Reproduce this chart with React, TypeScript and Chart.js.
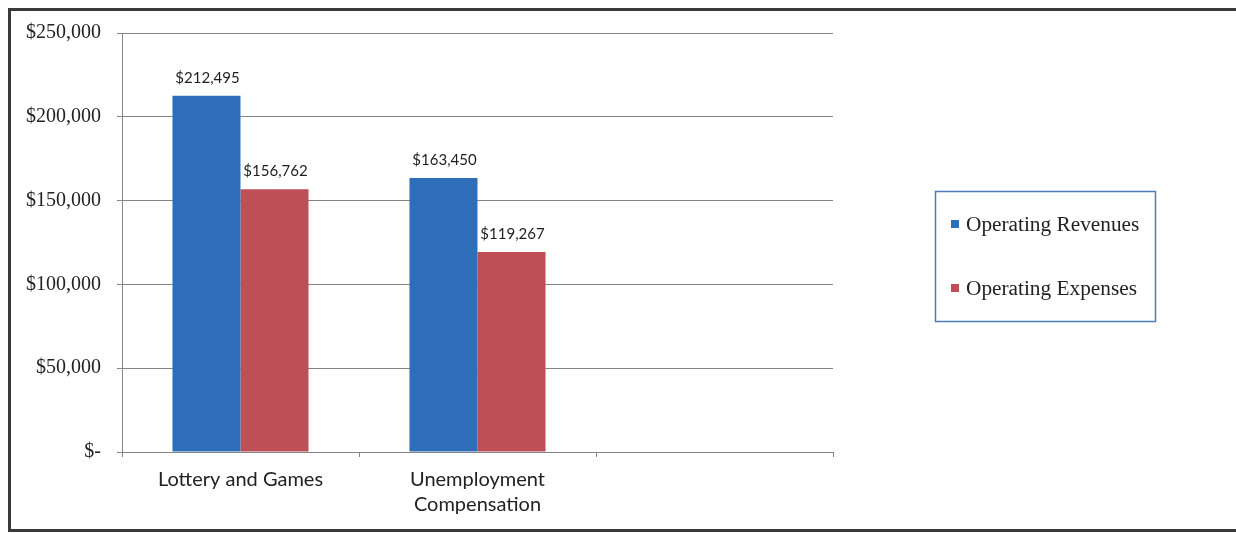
import React, { useEffect, useRef } from "react";
import { Chart, registerables } from "chart.js";

Chart.register(...registerables);

const categories: (string | string[])[] = ["Lottery and Games", ["Unemployment", "Compensation"], ""];
const seriesNames = ["Operating Revenues", "Operating Expenses"];
const revenues = [212495, 163450, null];
const expenses = [156762, 119267, null];
const yMin = 0;
const yMax = 250000;
const yStep = 50000;
const seriesColors = ["#2e6eb8", "#be4f57"];

const fmt = (v: number) => (v === 0 ? "$-" : "$" + v.toLocaleString("en-US"));

const framePlugin = {
  id: "frame",
  beforeDraw(chart: any) {
    const ctx = chart.ctx;
    ctx.save();
    ctx.fillStyle = "#ffffff";
    ctx.fillRect(0, 0, chart.width, chart.height);
    ctx.fillStyle = "#3a3a3a";
    ctx.fillRect(8, 8, chart.width - 8, 3);
    ctx.fillRect(8, 8, 3, 524);
    ctx.fillRect(8, 529, chart.width - 8, 3);
    ctx.restore();
  },
};

const valueLabelPlugin = {
  id: "valueLabels",
  afterDatasetsDraw(chart: any) {
    const ctx = chart.ctx;
    ctx.save();
    ctx.font = "15px Lato";
    ctx.fillStyle = "#1e1e1e";
    ctx.textAlign = "center";
    ctx.textBaseline = "alphabetic";
    chart.data.datasets.forEach((ds: any, di: number) => {
      const meta = chart.getDatasetMeta(di);
      meta.data.forEach((el: any, i: number) => {
        const v = ds.data[i];
        if (v === null || v === undefined) return;
        ctx.fillText(fmt(v), el.x + 1, el.y - 13);
      });
    });
    ctx.restore();
  },
};

const legendPlugin = {
  id: "boxLegend",
  afterDraw(chart: any) {
    const ctx = chart.ctx;
    ctx.save();
    ctx.strokeStyle = "#4a7ebb";
    ctx.lineWidth = 1.5;
    ctx.strokeRect(935.5, 191.5, 220, 130);
    const ys = [224, 288];
    ctx.font = "21.3px 'Liberation Serif'";
    ctx.textAlign = "left";
    ctx.textBaseline = "middle";
    seriesNames.forEach((name, i) => {
      ctx.fillStyle = seriesColors[i];
      ctx.fillRect(951, ys[i] - 4, 8, 8);
      ctx.fillStyle = "#222222";
      ctx.fillText(name, 966, ys[i] + 1);
    });
    ctx.restore();
  },
};

export default function App() {
  const ref = useRef<HTMLCanvasElement | null>(null);
  useEffect(() => {
    if (!ref.current) return;
    const chart = new Chart(ref.current, {
      type: "bar",
      data: {
        labels: categories as any,
        datasets: [
          {
            label: seriesNames[0],
            data: revenues as any,
            backgroundColor: seriesColors[0],
            categoryPercentage: 0.574,
            barPercentage: 1,
          },
          {
            label: seriesNames[1],
            data: expenses as any,
            backgroundColor: seriesColors[1],
            categoryPercentage: 0.574,
            barPercentage: 1,
          },
        ],
      },
      options: {
        responsive: false,
        animation: false,
        devicePixelRatio: 1,
        layout: { padding: { top: 33, right: 403, bottom: 0, left: 0 } },
        plugins: { legend: { display: false }, tooltip: { enabled: false } },
        scales: {
          x: {
            afterFit: (s: any) => {
              s.height = 81;
            },
            grid: { drawOnChartArea: false, drawTicks: true, tickLength: 5, color: "#858585", offset: true },
            border: { display: true, color: "#858585" },
            ticks: {
              font: { family: "Lato", size: 20, lineHeight: 1.25 },
              color: "#222222",
              padding: 10,
              maxRotation: 0,
              autoSkip: false,
            },
          },
          y: {
            min: yMin,
            max: yMax,
            afterFit: (s: any) => {
              s.width = 122;
            },
            grid: { color: "#858585", tickLength: 5, lineWidth: 1 },
            border: { display: true, color: "#858585" },
            ticks: {
              stepSize: yStep,
              padding: 16,
              font: { family: "'Liberation Serif'", size: 20 },
              color: "#222222",
              callback: (v: any) => fmt(Number(v)),
            },
          },
        },
      },
      plugins: [framePlugin, valueLabelPlugin, legendPlugin],
    });
    return () => chart.destroy();
  }, []);
  return (
    <div style={{ position: "fixed", left: 0, top: 0, width: 1236, height: 533 }}>
      <canvas ref={ref} width={1236} height={533} style={{ display: "block" }} />
    </div>
  );
}
